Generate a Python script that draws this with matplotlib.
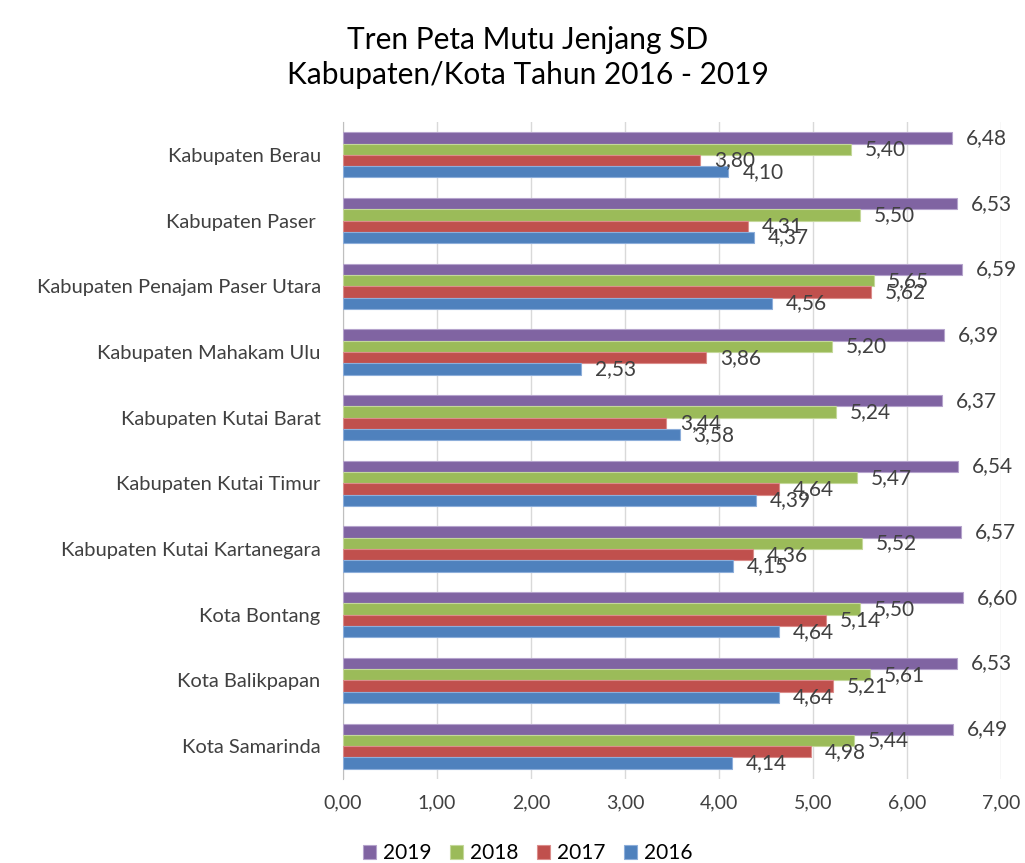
import matplotlib.pyplot as plt
import numpy as np

plt.rcParams['font.family'] = ['Lato', 'DejaVu Sans']

regions = ["Kabupaten Berau", "Kabupaten Paser ", "Kabupaten Penajam Paser Utara",
           "Kabupaten Mahakam Ulu", "Kabupaten Kutai Barat", "Kabupaten Kutai Timur",
           "Kabupaten Kutai Kartanegara", "Kota Bontang", "Kota Balikpapan", "Kota Samarinda"]
years = ["2019", "2018", "2017", "2016"]
v2019 = [6.48, 6.53, 6.59, 6.39, 6.37, 6.54, 6.57, 6.60, 6.53, 6.49]
v2018 = [5.40, 5.50, 5.65, 5.20, 5.24, 5.47, 5.52, 5.50, 5.61, 5.44]
v2017 = [3.80, 4.31, 5.62, 3.86, 3.44, 4.64, 4.36, 5.14, 5.21, 4.98]
v2016 = [4.10, 4.37, 4.56, 2.53, 3.58, 4.39, 4.15, 4.64, 4.64, 4.14]
series = [v2019, v2018, v2017, v2016]
colors = ['#8064A2', '#9BBB59', '#C0504D', '#4F81BD']
edges = ['#B5A3CC', '#C4D89A', '#DB8D8B', '#8DAEDA']

fig = plt.figure(figsize=(10.25, 8.63), dpi=100)
ax = fig.add_axes([0.3346, 0.0973, 0.642, 0.7613])

y = np.arange(len(regions))
h = 0.172
for i, (vals, c, ec, yr) in enumerate(zip(series, colors, edges, years)):
    pos = y - 1.5 * h + i * h
    ax.barh(pos, vals, height=h, color=c, edgecolor=ec, linewidth=0.8, label=yr, zorder=3)
    for p, v in zip(pos, vals):
        ax.annotate(f"{v:.2f}".replace('.', ','), (v, p), xytext=(10, 0),
                    textcoords='offset points', va='center', ha='left',
                    fontsize=15, color='#404040', zorder=4)

ax.set_xlim(0, 7)
ax.set_ylim(len(regions) - 0.5, -0.5)
ax.set_yticks(y)
ax.set_yticklabels(regions, fontsize=14.5, color='#404040')
ax.set_xticks(np.arange(0, 7.5, 1))
ax.set_xticklabels([f"{t:.2f}".replace('.', ',') for t in np.arange(0, 7.5, 1)],
                   fontsize=14, color='#404040')
ax.tick_params(axis='y', length=0, pad=16)
ax.tick_params(axis='x', length=0, pad=11)
ax.grid(axis='x', color='#D9D9D9', linewidth=1, zorder=0)
for s in ['top', 'right', 'bottom']:
    ax.spines[s].set_visible(False)
ax.spines['left'].set_color('#BFBFBF')

fig.suptitle("Tren Peta Mutu Jenjang SD\nKabupaten/Kota Tahun 2016 - 2019",
             fontsize=21.5, x=0.515, y=0.97, color='#000000', linespacing=1.3)

fig.legend(loc='lower center', bbox_to_anchor=(0.515, -0.022), ncol=4, frameon=False,
           fontsize=15, handlelength=0.6, handleheight=0.6, handletextpad=0.35,
           columnspacing=0.9)

fig.savefig("out.png", dpi=100)
